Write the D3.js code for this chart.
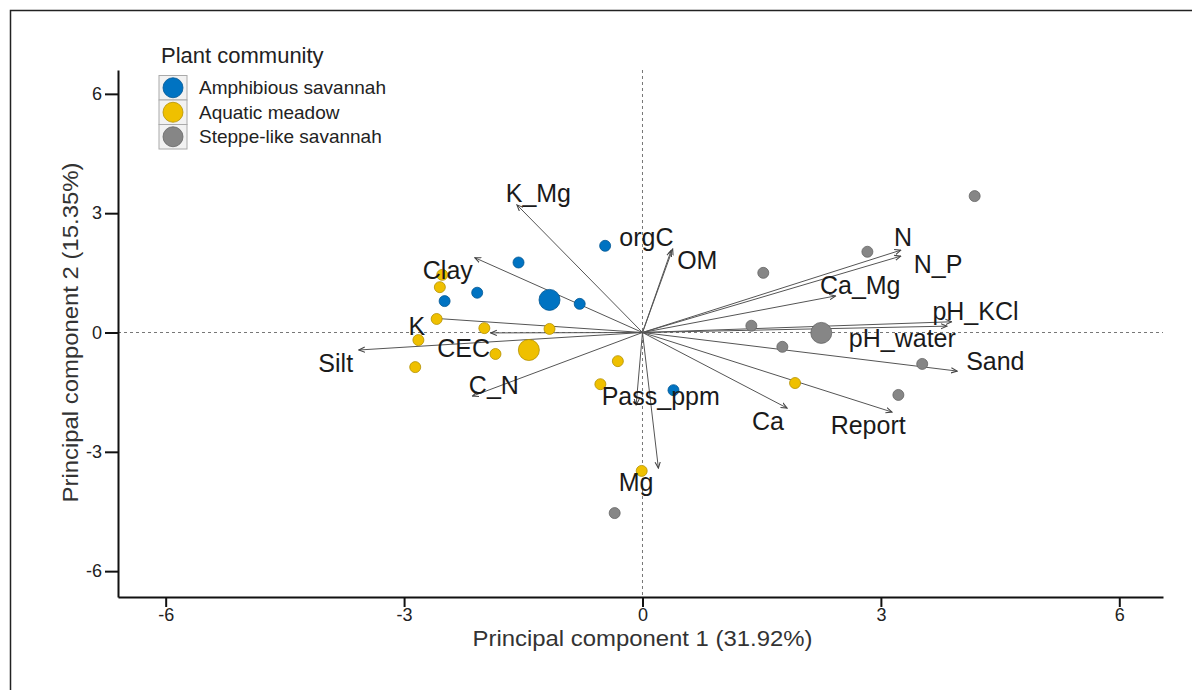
<!DOCTYPE html>
<html>
<head>
<meta charset="utf-8">
<script src="https://cdn.jsdelivr.net/npm/d3@7"></script>
<style>
  body { margin: 0; background: #fff; }
  text { font-family: "Liberation Sans", Arial, Helvetica, sans-serif; }
</style>
</head>
<body>
<svg width="1192" height="690"></svg>
<script>
var width = 1192,
    height = 690;

// ---- data ----
var groups = ["Amphibious savannah", "Aquatic meadow", "Steppe-like savannah"];
var groupColors = ["#0073C2", "#EFC000", "#868686"];

// individual sites (PC1, PC2)
var amphX = [-0.47, -1.56, -2.08, -2.49, -0.79, 0.39];
var amphY = [2.18, 1.76, 1.00, 0.79, 0.72, -1.45];
var aquaX = [-2.52, -2.55, -2.59, -1.99, -1.17, -2.82, -1.85, -2.86, -0.31, -0.53, -0.01, 1.92];
var aquaY = [1.45, 1.14, 0.34, 0.11, 0.09, -0.19, -0.54, -0.87, -0.72, -1.30, -3.48, -1.27];
var stepX = [4.18, 2.83, 1.52, 1.37, 1.76, 3.52, 3.22, -0.35];
var stepY = [3.43, 2.03, 1.50, 0.17, -0.36, -0.79, -1.57, -4.54];

// group centroids
var meanX = [-1.17, -1.43, 2.25];
var meanY = [0.82, -0.44, -0.01];

// variable loadings (arrow tips) and where their labels sit
var varNames = ["K_Mg", "orgC", "OM", "Clay", "K", "CEC", "Silt", "C_N", "Pass_ppm", "Mg",
                "N", "N_P", "Ca_Mg", "pH_KCl", "pH_water", "Sand", "Report", "Ca"];
var varX = [-1.58, 0.36, 0.38, -2.11, -2.64, -1.91, -3.57, -2.14, -0.08, 0.20,
            3.25, 3.25, 2.43, 3.89, 3.83, 3.96, 3.14, 1.82];
var varY = [3.21, 2.06, 2.10, 1.88, 0.36, -0.01, -0.44, -1.60, -1.82, -3.41,
            2.07, 1.92, 0.92, 0.27, 0.16, -0.97, -2.00, -1.90];
var labX = [-1.31, 0.05, 0.69, -2.45, -2.84, -2.25, -3.86, -1.87, 0.23, -0.08,
            3.28, 3.72, 2.74, 4.19, 3.27, 4.44, 2.84, 1.58];
var labY = [3.50, 2.40, 1.82, 1.57, 0.14, -0.39, -0.77, -1.32, -1.62, -3.76,
            2.38, 1.70, 1.19, 0.52, -0.16, -0.74, -2.35, -2.25];

var tickVals = [-6, -3, 0, 3, 6];
var xTitle = "Principal component 1 (31.92%)";
var yTitle = "Principal component 2 (15.35%)";
var legendTitle = "Plant community";

// ---- scales ----
var x = d3.scaleLinear().domain([-6.6, 6.55]).range([118, 1163]);
var y = d3.scaleLinear().domain([-6.65, 6.6]).range([597, 70]);

var svg = d3.select("svg")
    .attr("width", width)
    .attr("height", height);

// outer frame
svg.append("rect")
    .attr("x", 10.5).attr("y", 10.5)
    .attr("width", 1200).attr("height", 700)
    .attr("fill", "none")
    .attr("stroke", "#222")
    .attr("stroke-width", 1.5);

// ---- reference lines ----
svg.append("line")
    .attr("x1", x(0)).attr("x2", x(0))
    .attr("y1", y.range()[1]).attr("y2", y.range()[0])
    .attr("stroke", "#777").attr("stroke-width", 1)
    .attr("stroke-dasharray", "3,3");
svg.append("line")
    .attr("x1", x.range()[0]).attr("x2", x.range()[1])
    .attr("y1", y(0)).attr("y2", y(0))
    .attr("stroke", "#777").attr("stroke-width", 1)
    .attr("stroke-dasharray", "3,3");

// ---- axes ----
var fmt = function(d) { return String(d); };
var xAxis = svg.append("g")
    .attr("transform", "translate(0," + y.range()[0] + ")")
    .call(d3.axisBottom(x).tickValues(tickVals).tickSize(10).tickSizeOuter(0).tickPadding(1).tickFormat(fmt));
var yAxis = svg.append("g")
    .attr("transform", "translate(" + x.range()[0] + ",0)")
    .call(d3.axisLeft(y).tickValues(tickVals).tickSize(13).tickSizeOuter(0).tickPadding(3).tickFormat(fmt));

[xAxis, yAxis].forEach(function(g) {
    g.select(".domain").attr("stroke", "#111").attr("stroke-width", 2);
    g.selectAll(".tick line").attr("stroke", "#111").attr("stroke-width", 2);
    g.selectAll(".tick text")
        .attr("fill", "#222")
        .style("font-size", "18px")
        .style("font-family", "'Liberation Sans', Arial, sans-serif");
});

svg.append("text")
    .attr("x", x(0))
    .attr("y", 646)
    .attr("text-anchor", "middle")
    .attr("fill", "#333")
    .style("font-size", "22px")
    .attr("textLength", 340)
    .attr("lengthAdjust", "spacingAndGlyphs")
    .text(xTitle);

svg.append("text")
    .attr("transform", "translate(78," + y(0) + ") rotate(-90)")
    .attr("text-anchor", "middle")
    .attr("fill", "#333")
    .style("font-size", "22px")
    .attr("textLength", 340)
    .attr("lengthAdjust", "spacingAndGlyphs")
    .text(yTitle);

// ---- arrows ----
svg.append("defs").append("marker")
    .attr("id", "arrowhead")
    .attr("viewBox", "0 -4 8 8")
    .attr("refX", 7).attr("refY", 0)
    .attr("markerWidth", 7).attr("markerHeight", 7)
    .attr("markerUnits", "userSpaceOnUse")
    .attr("orient", "auto")
    .append("path")
    .attr("d", "M0,-3L7,0L0,3")
    .attr("fill", "none")
    .attr("stroke", "#444")
    .attr("stroke-width", 1.2);

svg.selectAll(".var-line")
    .data(varNames)
    .enter()
    .append("line")
    .attr("class", "var-line")
    .attr("x1", x(0)).attr("y1", y(0))
    .attr("x2", function(d, i) { return x(varX[i]); })
    .attr("y2", function(d, i) { return y(varY[i]); })
    .attr("stroke", "#555")
    .attr("stroke-width", 1)
    .attr("marker-end", "url(#arrowhead)");

// ---- points ----
var points = [];
[[amphX, amphY], [aquaX, aquaY], [stepX, stepY]].forEach(function(pair, g) {
    pair[0].forEach(function(v, i) {
        points.push({x: v, y: pair[1][i], g: g});
    });
});

svg.selectAll(".site")
    .data(points)
    .enter()
    .append("circle")
    .attr("class", "site")
    .attr("cx", function(d) { return x(d.x); })
    .attr("cy", function(d) { return y(d.y); })
    .attr("r", 5.5)
    .attr("fill", function(d) { return groupColors[d.g]; })
    .attr("stroke", function(d) { return d3.color(groupColors[d.g]).darker(0.8); })
    .attr("stroke-width", 0.8);

svg.selectAll(".mean")
    .data(groups)
    .enter()
    .append("circle")
    .attr("class", "mean")
    .attr("cx", function(d, i) { return x(meanX[i]); })
    .attr("cy", function(d, i) { return y(meanY[i]); })
    .attr("r", 10.5)
    .attr("fill", function(d, i) { return groupColors[i]; })
    .attr("stroke", function(d, i) { return d3.color(groupColors[i]).darker(0.8); })
    .attr("stroke-width", 0.8);

// ---- variable labels ----
svg.selectAll(".var-label")
    .data(varNames)
    .enter()
    .append("text")
    .attr("class", "var-label")
    .attr("x", function(d, i) { return x(labX[i]); })
    .attr("y", function(d, i) { return y(labY[i]) + 8.5; })
    .attr("text-anchor", "middle")
    .attr("fill", "#1a1a1a")
    .style("font-size", "25px")
    .text(function(d) { return d; });

// ---- legend ----
var legend = svg.append("g");
legend.append("text")
    .attr("x", 161).attr("y", 63)
    .attr("fill", "#222")
    .style("font-size", "22px")
    .text(legendTitle);

var keys = legend.selectAll(".key")
    .data(groups)
    .enter()
    .append("g")
    .attr("class", "key")
    .attr("transform", function(d, i) { return "translate(159," + (75.5 + i * 24.5) + ")"; });

keys.append("rect")
    .attr("width", 28).attr("height", 24.5)
    .attr("fill", "#f2f2f2")
    .attr("stroke", "#aaa")
    .attr("stroke-width", 1);
keys.append("circle")
    .attr("cx", 14).attr("cy", 12.25)
    .attr("r", 10)
    .attr("fill", function(d, i) { return groupColors[i]; })
    .attr("stroke", function(d, i) { return d3.color(groupColors[i]).darker(0.8); })
    .attr("stroke-width", 0.8);
keys.append("text")
    .attr("x", 40).attr("y", 18.5)
    .attr("fill", "#222")
    .style("font-size", "19px")
    .text(function(d) { return d; });
</script>
</body>
</html>
